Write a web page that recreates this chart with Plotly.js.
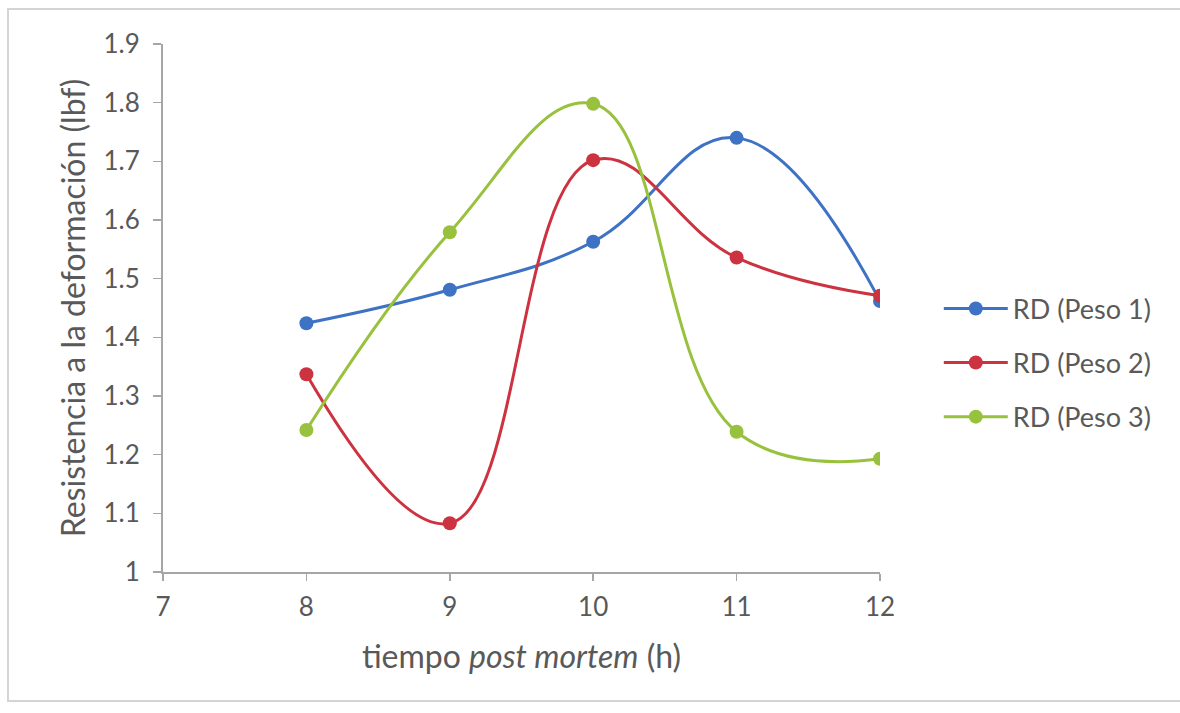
<!DOCTYPE html>
<html>
<head>
<meta charset="utf-8">
<script src="https://cdn.plot.ly/plotly-3.0.1.min.js"></script>
<style>
  html, body { margin: 0; padding: 0; background: #ffffff; }
  #frame {
    position: absolute; left: 7px; top: 8px; width: 1180px; height: 694px;
    border: 2px solid #d4d4d4; box-sizing: border-box;
  }
  #chart { position: absolute; left: 0; top: 0; width: 1180px; height: 713px; }
</style>
</head>
<body>
<div id="frame"></div>
<div id="chart"></div>
<script>
// Hours post mortem
const horas = [8, 9, 10, 11, 12];

// Deformation resistance (lbf) by weight group
const peso1 = [1.424, 1.481, 1.563, 1.740, 1.462];
const peso2 = [1.337, 1.083, 1.702, 1.536, 1.471];
const peso3 = [1.242, 1.579, 1.798, 1.239, 1.193];

const nombres = ['RD (Peso 1)', 'RD (Peso 2)', 'RD (Peso 3)'];
const colores = ['#3d72c4', '#cc323f', '#98c13d'];

const series = [peso1, peso2, peso3];
const traces = series.map((vals, i) => ({
  x: horas,
  y: vals,
  name: nombres[i],
  legendgroup: 'g' + i,
  type: 'scatter',
  mode: 'lines+markers',
  line: { color: colores[i], width: 3, shape: 'spline', smoothing: 1.2 },
  marker: { color: colores[i], size: 14 }
}));

const familia = 'Lato, "Open Sans", sans-serif';
const gris = '#595959';

const layout = {
  width: 1180,
  height: 713,
  paper_bgcolor: 'rgba(0,0,0,0)',
  plot_bgcolor: 'rgba(0,0,0,0)',
  margin: { l: 163, r: 300, t: 44, b: 141 },
  font: { family: familia, color: gris },
  showlegend: true,
  legend: {
    x: 1.082, xanchor: 'left', y: 0.396, yanchor: 'middle',
    font: { family: familia, size: 27, color: gris },
    itemwidth: 64,
    traceorder: 'grouped',
    tracegroupgap: 16,
    bgcolor: 'rgba(0,0,0,0)'
  },
  xaxis: {
    range: [7, 12],
    dtick: 1,
    tick0: 7,
    showgrid: false,
    zeroline: false,
    showline: true,
    linecolor: '#a6a6a6',
    linewidth: 2,
    ticks: 'outside',
    ticklen: 7,
    tickwidth: 1.5,
    tickcolor: '#a6a6a6',
    ticklabelstandoff: 4,
    tickfont: { family: familia, size: 26, color: gris },
    title: {
      text: 'tiempo <i>post mortem</i> (h)',
      font: { family: familia, size: 32, color: gris },
      standoff: 24
    }
  },
  yaxis: {
    range: [1, 1.9],
    dtick: 0.1,
    tick0: 1,
    showgrid: false,
    zeroline: false,
    showline: true,
    linecolor: '#a6a6a6',
    linewidth: 2,
    ticks: 'outside',
    ticklen: 8,
    tickwidth: 1.5,
    tickcolor: '#a6a6a6',
    ticklabelstandoff: 8,
    tickfont: { family: familia, size: 26, color: gris },
    tickformat: '.1~f',
    title: {
      text: 'Resistencia a la deformación (lbf)',
      font: { family: familia, size: 32, color: gris },
      standoff: 8
    }
  }
};

Plotly.newPlot('chart', traces, layout, { displayModeBar: false, staticPlot: true });
</script>
</body>
</html>
